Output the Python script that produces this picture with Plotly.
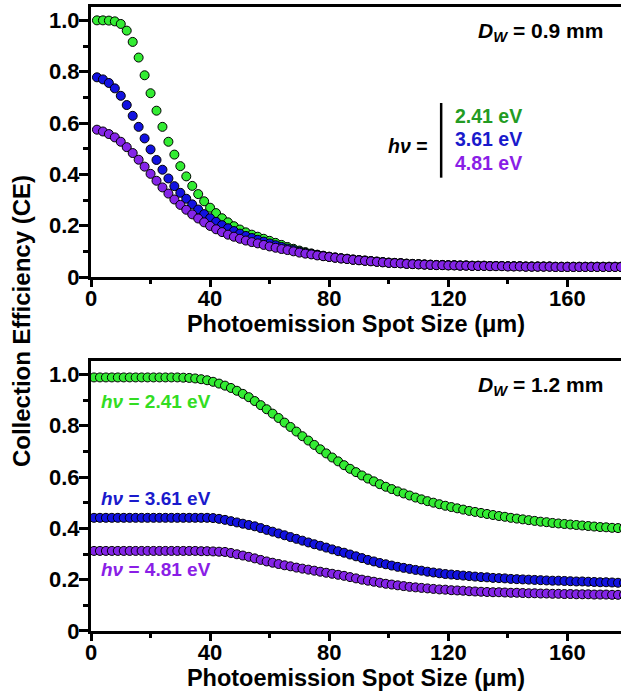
import plotly.graph_objects as go

# ---------------- data ----------------
x_top = [2, 4, 6, 8, 10, 12, 14, 16, 18, 20, 22, 24, 26, 28, 30, 32, 34, 36, 38, 40,
         42, 44, 46, 48, 50, 52, 54, 56, 58, 60, 62, 64, 66, 68, 70, 72, 74, 76, 78, 80,
         82, 84, 86, 88, 90, 92, 94, 96, 98, 100, 102, 104, 106, 108, 110, 112, 114, 116, 118, 120,
         122, 124, 126, 128, 130, 132, 134, 136, 138, 140, 142, 144, 146, 148, 150, 152, 154, 156, 158, 160,
         162, 164, 166, 168, 170, 172, 174, 176, 178, 180]

top_241 = [1.000, 1.000, 0.999, 0.996, 0.986, 0.960, 0.916, 0.855, 0.786, 0.716,
           0.648, 0.585, 0.527, 0.477, 0.432, 0.392, 0.355, 0.323, 0.295, 0.270,
           0.249, 0.229, 0.213, 0.198, 0.185, 0.174, 0.165, 0.157, 0.149, 0.141,
           0.133, 0.125, 0.117, 0.110, 0.103, 0.097, 0.092, 0.087, 0.083, 0.079,
           0.076, 0.073, 0.071, 0.068, 0.066, 0.064, 0.062, 0.060, 0.058, 0.056,
           0.055, 0.054, 0.052, 0.051, 0.050, 0.049, 0.048, 0.047, 0.047, 0.046,
           0.046, 0.045, 0.045, 0.044, 0.044, 0.044, 0.043, 0.043, 0.043, 0.042,
           0.042, 0.042, 0.041, 0.041, 0.041, 0.041, 0.041, 0.040, 0.040, 0.040,
           0.040, 0.040, 0.040, 0.040, 0.040, 0.040, 0.040, 0.040, 0.040, 0.040]

top_361 = [0.778, 0.770, 0.756, 0.735, 0.706, 0.670, 0.628, 0.585, 0.540, 0.497,
           0.456, 0.418, 0.384, 0.354, 0.328, 0.305, 0.283, 0.263, 0.245, 0.229,
           0.215, 0.202, 0.190, 0.179, 0.169, 0.160, 0.152, 0.145, 0.138, 0.131,
           0.124, 0.117, 0.111, 0.105, 0.099, 0.094, 0.090, 0.086, 0.082, 0.079,
           0.076, 0.073, 0.071, 0.068, 0.066, 0.064, 0.062, 0.060, 0.058, 0.056,
           0.055, 0.054, 0.052, 0.051, 0.050, 0.049, 0.048, 0.047, 0.047, 0.046,
           0.046, 0.045, 0.045, 0.044, 0.044, 0.044, 0.043, 0.043, 0.043, 0.042,
           0.042, 0.042, 0.041, 0.041, 0.041, 0.041, 0.041, 0.040, 0.040, 0.040,
           0.040, 0.040, 0.040, 0.040, 0.040, 0.040, 0.040, 0.040, 0.040, 0.040]

top_481 = [0.574, 0.567, 0.557, 0.544, 0.527, 0.506, 0.483, 0.457, 0.430, 0.402,
           0.375, 0.349, 0.325, 0.302, 0.281, 0.262, 0.244, 0.228, 0.213, 0.199,
           0.186, 0.175, 0.165, 0.157, 0.149, 0.142, 0.136, 0.131, 0.125, 0.119,
           0.114, 0.109, 0.105, 0.100, 0.095, 0.091, 0.088, 0.084, 0.081, 0.078,
           0.075, 0.072, 0.070, 0.067, 0.065, 0.063, 0.061, 0.059, 0.057, 0.055,
           0.054, 0.053, 0.051, 0.050, 0.049, 0.048, 0.047, 0.046, 0.046, 0.045,
           0.045, 0.044, 0.044, 0.043, 0.043, 0.043, 0.042, 0.042, 0.042, 0.041,
           0.041, 0.041, 0.040, 0.040, 0.040, 0.040, 0.040, 0.039, 0.039, 0.039,
           0.039, 0.039, 0.039, 0.039, 0.039, 0.039, 0.039, 0.039, 0.039, 0.039]

x_bot = [1, 3, 5, 7, 9, 11, 13, 15, 17, 19, 21, 23, 25, 27, 29, 31, 33, 35, 37, 39,
         41, 43, 45, 47, 49, 51, 53, 55, 57, 59, 61, 63, 65, 67, 69, 71, 73, 75, 77, 79,
         81, 83, 85, 87, 89, 91, 93, 95, 97, 99, 101, 103, 105, 107, 109, 111, 113, 115, 117, 119,
         121, 123, 125, 127, 129, 131, 133, 135, 137, 139, 141, 143, 145, 147, 149, 151, 153, 155, 157, 159,
         161, 163, 165, 167, 169, 171, 173, 175, 177, 179]

bot_241 = [0.988, 0.988, 0.988, 0.988, 0.988, 0.988, 0.988, 0.988, 0.988, 0.988,
           0.988, 0.988, 0.988, 0.988, 0.988, 0.987, 0.986, 0.984, 0.981, 0.977,
           0.971, 0.964, 0.956, 0.947, 0.936, 0.924, 0.911, 0.896, 0.880, 0.864,
           0.847, 0.830, 0.812, 0.795, 0.777, 0.759, 0.742, 0.725, 0.708, 0.692,
           0.676, 0.661, 0.646, 0.632, 0.619, 0.606, 0.594, 0.583, 0.572, 0.562,
           0.553, 0.544, 0.536, 0.528, 0.520, 0.513, 0.506, 0.500, 0.494, 0.488,
           0.483, 0.478, 0.473, 0.468, 0.464, 0.460, 0.456, 0.452, 0.448, 0.445,
           0.441, 0.438, 0.435, 0.432, 0.429, 0.426, 0.424, 0.421, 0.419, 0.417,
           0.415, 0.413, 0.411, 0.409, 0.407, 0.405, 0.404, 0.402, 0.401, 0.400]

bot_361 = [0.441, 0.441, 0.441, 0.441, 0.441, 0.441, 0.441, 0.441, 0.441, 0.441,
           0.441, 0.441, 0.441, 0.441, 0.441, 0.441, 0.441, 0.441, 0.441, 0.441,
           0.440, 0.437, 0.433, 0.428, 0.423, 0.418, 0.413, 0.408, 0.401, 0.394,
           0.387, 0.380, 0.373, 0.366, 0.359, 0.352, 0.345, 0.338, 0.332, 0.325,
           0.318, 0.311, 0.305, 0.298, 0.291, 0.284, 0.277, 0.271, 0.265, 0.260,
           0.255, 0.250, 0.246, 0.242, 0.238, 0.235, 0.231, 0.228, 0.225, 0.222,
           0.220, 0.218, 0.216, 0.214, 0.212, 0.210, 0.209, 0.207, 0.206, 0.205,
           0.203, 0.202, 0.201, 0.200, 0.199, 0.198, 0.197, 0.196, 0.196, 0.195,
           0.194, 0.193, 0.193, 0.192, 0.191, 0.190, 0.190, 0.189, 0.188, 0.188]

bot_481 = [0.312, 0.312, 0.312, 0.312, 0.312, 0.312, 0.312, 0.312, 0.312, 0.312,
           0.312, 0.312, 0.312, 0.312, 0.312, 0.312, 0.312, 0.312, 0.311, 0.311,
           0.310, 0.309, 0.308, 0.304, 0.299, 0.294, 0.289, 0.283, 0.277, 0.271,
           0.266, 0.261, 0.256, 0.252, 0.247, 0.243, 0.239, 0.235, 0.231, 0.227,
           0.223, 0.219, 0.215, 0.210, 0.205, 0.200, 0.196, 0.192, 0.188, 0.184,
           0.181, 0.178, 0.175, 0.172, 0.170, 0.168, 0.166, 0.164, 0.162, 0.161,
           0.159, 0.158, 0.157, 0.155, 0.154, 0.153, 0.152, 0.151, 0.151, 0.150,
           0.149, 0.149, 0.148, 0.147, 0.147, 0.146, 0.146, 0.145, 0.145, 0.144,
           0.144, 0.143, 0.143, 0.143, 0.142, 0.142, 0.142, 0.141, 0.141, 0.141]

x_tickvals = [0, 40, 80, 120, 160]
x_ticktext = ["0", "40", "80", "120", "160"]
y_tickvals = [0, 0.2, 0.4, 0.6, 0.8, 1.0]
y_ticktext = ["0", "0.2", "0.4", "0.6", "0.8", "1.0"]

photon_labels = ["2.41 eV", "3.61 eV", "4.81 eV"]
panel_labels = ["0.9 mm", "1.2 mm"]

# ---------------- style ----------------
FONT = "Liberation Sans, Arial, Helvetica, sans-serif"
GREEN = "#33ec33"
BLUE = "#1212e0"
PURPLE = "#8424e8"
GREEN_TXT_TOP = "#239b23"
GREEN_TXT_BOT = "#33dd22"
BLUE_TXT = "#1a1acc"
PURPLE_TXT = "#8a1ee6"

fig = go.Figure()


def add_series(x, y, color, xa, ya):
    fig.add_trace(go.Scatter(
        x=x, y=y, mode="markers", xaxis=xa, yaxis=ya, showlegend=False,
        marker=dict(size=9, color=color, line=dict(color="black", width=1)),
    ))


add_series(x_top, top_241, GREEN, "x", "y")
add_series(x_top, top_361, BLUE, "x", "y")
add_series(x_top, top_481, PURPLE, "x", "y")
add_series(x_bot, bot_241, GREEN, "x2", "y2")
add_series(x_bot, bot_361, BLUE, "x2", "y2")
add_series(x_bot, bot_481, PURPLE, "x2", "y2")

xaxis_common = dict(
    range=[0, 178], showline=True, linewidth=3, linecolor="black", mirror=True,
    ticks="outside", ticklen=7, tickwidth=3, tickcolor="black",
    tickvals=x_tickvals, ticktext=x_ticktext,
    minor=dict(tickvals=[20, 60, 100, 140], ticks="outside", ticklen=4, tickwidth=3, tickcolor="black"),
    showgrid=False, zeroline=False,
    tickfont=dict(family=FONT, size=22, color="black", weight="bold"),
    title=dict(text="<b>Photoemission Spot Size (μm)</b>", font=dict(family=FONT, size=23.5, color="black"),
               standoff=0),
    ticklabelstandoff=-7,
)
yaxis_common = dict(
    range=[0, 1.052], showline=True, linewidth=3, linecolor="black",
    ticks="outside", ticklen=9, tickwidth=3, tickcolor="black",
    tickvals=y_tickvals, ticktext=y_ticktext,
    minor=dict(tickvals=[0.1, 0.3, 0.5, 0.7, 0.9], ticks="outside", ticklen=5, tickwidth=3, tickcolor="black"),
    showgrid=False, zeroline=False,
    tickfont=dict(family=FONT, size=22, color="black", weight="bold"),
    ticklabelstandoff=-5,
)

fig.update_layout(
    width=621, height=696,
    margin=dict(l=91, r=0, t=7, b=65, autoexpand=False),
    paper_bgcolor="white", plot_bgcolor="white",
    xaxis=dict(domain=[0, 1], anchor="y", **xaxis_common),
    yaxis=dict(domain=[0.5673, 1], anchor="x", **yaxis_common),
    xaxis2=dict(domain=[0, 1], anchor="y2", **xaxis_common),
    yaxis2=dict(domain=[0, 0.4327], anchor="x2", **yaxis_common),
)

ann = []
# y-axis shared title
ann.append(dict(text="<b>Collection Efficiency (CE)</b>", xref="paper", yref="paper",
                x=-0.131, y=0.496, textangle=-90, showarrow=False,
                font=dict(family=FONT, size=24, color="black"), xanchor="center", yanchor="middle"))
# panel labels
for (xr, yr, lab) in [("x", "y", panel_labels[0]), ("x2", "y2", panel_labels[1])]:
    ann.append(dict(text="<b><i>D</i><sub><i>W</i></sub> = " + lab + "</b>", xref=xr, yref=yr,
                    x=172.5, y=0.955, xanchor="right", yanchor="middle", showarrow=False,
                    font=dict(family=FONT, size=21, color="black")))
# top panel legend
ann.append(dict(text="<b><i>hν</i> =</b>", xref="x", yref="y", x=114, y=0.51, xanchor="right",
                yanchor="middle", showarrow=False, font=dict(family=FONT, size=19.5, color="black")))
for lab, col, yy in zip(photon_labels, [GREEN_TXT_TOP, BLUE_TXT, PURPLE_TXT], [0.628, 0.538, 0.445]):
    ann.append(dict(text="<b>" + lab + "</b>", xref="x", yref="y", x=121.5, y=yy, xanchor="left",
                    yanchor="middle", showarrow=False, font=dict(family=FONT, size=19.5, color=col)))
# bottom panel labels
for lab, col, yy in zip(photon_labels, [GREEN_TXT_BOT, BLUE_TXT, PURPLE_TXT], [0.893, 0.518, 0.238]):
    ann.append(dict(text="<b><i>hν</i> = " + lab + "</b>", xref="x2", yref="y2", x=2.8, y=yy,
                    xanchor="left", yanchor="middle", showarrow=False,
                    font=dict(family=FONT, size=19, color=col)))
fig.update_layout(annotations=ann)

# vertical bar in the top legend
fig.add_shape(type="line", xref="x", yref="y", x0=117.6, x1=117.6, y0=0.387, y1=0.678,
              line=dict(color="black", width=2.5))

fig.write_html("out.html", config={"displayModeBar": False},
               post_script="document.body.style.margin='0';document.body.style.padding='0';")
